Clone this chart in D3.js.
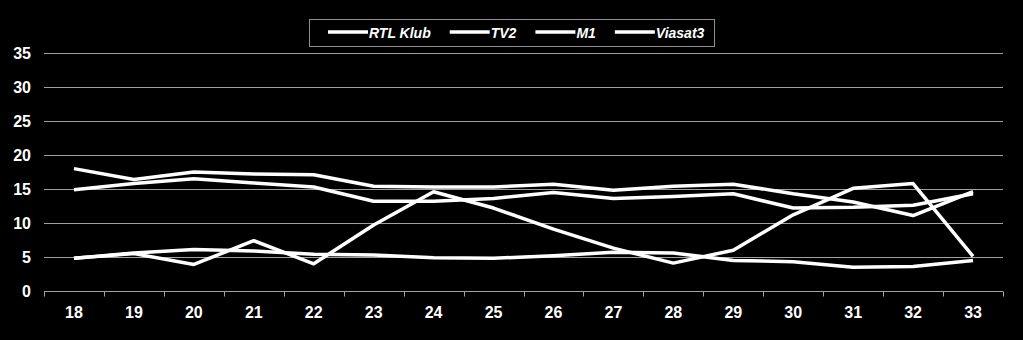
<!DOCTYPE html>
<html>
<head>
<meta charset="utf-8">
<script src="https://cdn.jsdelivr.net/npm/d3@7"></script>
<style>
  html, body { margin: 0; padding: 0; background: #000; }
  svg { display: block; }
  text { font-family: "Liberation Sans", Arial, sans-serif; }
</style>
</head>
<body>
<svg id="chart" width="1023" height="340"></svg>
<script>
var weeks = ["18", "19", "20", "21", "22", "23", "24", "25", "26", "27", "28", "29", "30", "31", "32", "33"];
var seriesNames = ["RTL Klub", "TV2", "M1", "Viasat3"];
var rtlKlub = [18.0, 16.4, 17.5, 17.2, 17.1, 15.4, 15.3, 15.3, 15.7, 14.8, 15.4, 15.7, 14.3, 13.1, 11.1, 14.6];
var tv2 = [14.9, 15.8, 16.5, 15.9, 15.3, 13.2, 13.2, 13.6, 14.5, 13.6, 13.9, 14.3, 12.2, 12.3, 12.6, 14.3];
var m1 = [4.8, 5.5, 3.9, 7.4, 4.0, 9.7, 14.6, 12.2, 9.1, 6.3, 4.1, 6.0, 11.2, 15.1, 15.8, 5.1];
var viasat3 = [4.8, 5.6, 6.1, 5.9, 5.4, 5.3, 4.9, 4.8, 5.2, 5.7, 5.6, 4.5, 4.3, 3.5, 3.6, 4.5];
var yTicks = [0, 5, 10, 15, 20, 25, 30, 35];

var svg = d3.select("#chart");
var plotLeft = 44, plotRight = 1003, plotTop = 53, plotBottom = 291;

var x = d3.scaleBand().domain(weeks).range([plotLeft, plotRight]).padding(0);
var y = d3.scaleLinear().domain([0, 35]).range([plotBottom, plotTop]);

// gridlines
svg.append("g")
    .selectAll("line")
    .data(yTicks.filter(function (d) { return d > 0; }))
    .enter()
    .append("line")
    .attr("x1", plotLeft)
    .attr("x2", plotRight)
    .attr("y1", function (d) { return y(d) + 0.5; })
    .attr("y2", function (d) { return y(d) + 0.5; })
    .attr("stroke", "#a0a0a0")
    .attr("stroke-width", 1);

// y labels
svg.append("g")
    .selectAll("text")
    .data(yTicks)
    .enter()
    .append("text")
    .attr("x", 31)
    .attr("y", function (d) { return y(d); })
    .attr("dy", "0.36em")
    .attr("text-anchor", "end")
    .attr("fill", "#fff")
    .attr("font-size", 16)
    .attr("font-weight", "bold")
    .text(function (d) { return d; });

// x axis with ticks on band boundaries
var xAxis = svg.append("g")
    .attr("transform", "translate(0," + (plotBottom + 0.5) + ")");
xAxis.append("line")
    .attr("x1", plotLeft).attr("x2", plotRight)
    .attr("stroke", "#a0a0a0").attr("stroke-width", 1);
var bounds = weeks.map(function (d) { return x(d); }).concat([plotRight]);
xAxis.selectAll("line.tick")
    .data(bounds)
    .enter()
    .append("line")
    .attr("class", "tick")
    .attr("x1", function (d) { return Math.round(d) + 0.5; })
    .attr("x2", function (d) { return Math.round(d) + 0.5; })
    .attr("y1", 0)
    .attr("y2", 5)
    .attr("stroke", "#a0a0a0");
xAxis.selectAll("text")
    .data(weeks)
    .enter()
    .append("text")
    .attr("x", function (d) { return x(d) + x.bandwidth() / 2; })
    .attr("y", 26)
    .attr("text-anchor", "middle")
    .attr("fill", "#fff")
    .attr("font-size", 16)
    .attr("font-weight", "bold")
    .text(function (d) { return d; });

// lines
var line = d3.line()
    .x(function (d, i) { return x(weeks[i]) + x.bandwidth() / 2; })
    .y(function (d) { return y(d); });

[rtlKlub, tv2, m1, viasat3].forEach(function (s) {
    svg.append("path")
        .datum(s)
        .attr("fill", "none")
        .attr("stroke", "#fff")
        .attr("stroke-width", 3.5)
        .attr("stroke-linejoin", "round")
        .attr("d", line);
});

// legend
var legend = svg.append("g");
legend.append("rect")
    .attr("x", 309.5).attr("y", 19.5)
    .attr("width", 405).attr("height", 27)
    .attr("fill", "#000")
    .attr("stroke", "#909090")
    .attr("stroke-width", 1);
var lx = 328;
seriesNames.forEach(function (name) {
    legend.append("line")
        .attr("x1", lx).attr("x2", lx + 40)
        .attr("y1", 32).attr("y2", 32)
        .attr("stroke", "#fff").attr("stroke-width", 3.5);
    var t = legend.append("text")
        .attr("x", lx + 41)
        .attr("y", 37.5)
        .attr("fill", "#fff")
        .attr("font-size", 14)
        .attr("font-weight", "bold")
        .attr("font-style", "italic")
        .text(name);
    lx += 41 + t.node().getComputedTextLength() + 19;
});
</script>
</body>
</html>
